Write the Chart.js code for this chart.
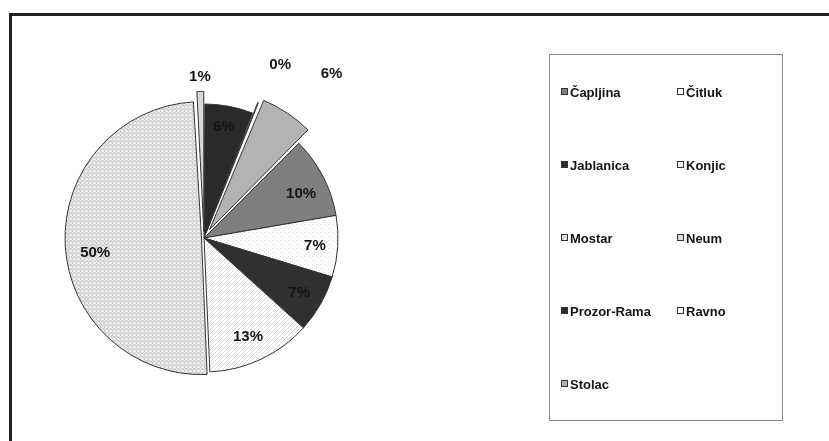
<!DOCTYPE html>
<html>
<head>
<meta charset="utf-8">
<script src="https://cdn.jsdelivr.net/npm/chart.js@4/dist/chart.umd.min.js"></script>
<style>
  html, body { margin: 0; padding: 0; background: #fff; }
  #wrap { width: 829px; height: 441px; }
</style>
</head>
<body>
<div id="wrap"><canvas id="pie" width="829" height="441"></canvas></div>
<script>
// podaci (udio u %)
const opcine = ['Čapljina', 'Čitluk', 'Jablanica', 'Konjic', 'Mostar', 'Neum', 'Prozor-Rama', 'Ravno', 'Stolac'];
const udio = [9.8, 7.4, 7.0, 12.6, 49.8, 1.0, 5.8, 0.3, 6.3];

// izgled
const izvuceno = [0, 0, 0, 0, 10, 26, 0, 24, 40];
const labelR = [0.795, 0.83, 0.82, 0.81, 0.82, 1.20, 0.84, 1.41, 1.55];
const labelShift = [3, 0.6, 0.5, 1.3, -5, 0, -0.6, 2, 4.2];

function pattern(size, draw) {
  const c = document.createElement('canvas');
  c.width = size; c.height = size;
  const g = c.getContext('2d');
  g.fillStyle = '#fff';
  g.fillRect(0, 0, size, size);
  draw(g);
  return document.getElementById('pie').getContext('2d').createPattern(c, 'repeat');
}

const dots = pattern(4, g => { g.fillStyle = '#dedede'; g.fillRect(0, 0, 1, 1); g.fillRect(2, 2, 1, 1); });
const hatch = pattern(4, g => {
  g.fillStyle = '#dcdcdc';
  g.fillRect(3, 0, 1, 1); g.fillRect(2, 1, 1, 1); g.fillRect(1, 2, 1, 1); g.fillRect(0, 3, 1, 1);
});
const checks = pattern(4, g => { g.fillStyle = '#c9c9c9'; g.fillRect(0, 0, 2, 2); g.fillRect(2, 2, 2, 2); g.fillStyle = '#e6e6e6'; g.fillRect(2, 0, 2, 2); });

const boje = ['#7f7f7f', dots, '#303030', hatch, checks, '#d9d9d9', '#2a2a2a', '#ffffff', '#b3b3b3'];

const okvir = {
  id: 'okvir',
  beforeDraw(chart) {
    const ctx = chart.ctx;
    ctx.save();
    ctx.strokeStyle = '#222';
    ctx.lineWidth = 3;
    ctx.beginPath();
    ctx.moveTo(10.5, 445);
    ctx.lineTo(10.5, 14.5);
    ctx.lineTo(835, 14.5);
    ctx.stroke();
    ctx.restore();
  }
};

const postoci = {
  id: 'postoci',
  afterDatasetsDraw(chart) {
    const ctx = chart.ctx;
    const meta = chart.getDatasetMeta(0);
    const total = udio.reduce((a, b) => a + b, 0);
    ctx.save();
    ctx.font = 'bold 15px "Liberation Sans", Arial, sans-serif';
    ctx.fillStyle = '#141414';
    ctx.textAlign = 'center';
    ctx.textBaseline = 'middle';
    meta.data.forEach((arc, i) => {
      const p = arc.getProps(['x', 'y', 'startAngle', 'endAngle', 'outerRadius'], true);
      const a = (p.startAngle + p.endAngle) / 2 + labelShift[i] * Math.PI / 180;
      const r = p.outerRadius * labelR[i];
      ctx.fillText(Math.round(udio[i] / total * 100) + '%', p.x + Math.cos(a) * r, p.y + Math.sin(a) * r);
    });
    ctx.restore();
  }
};

const legenda = {
  id: 'legenda',
  afterDraw(chart) {
    const ctx = chart.ctx;
    ctx.save();
    ctx.strokeStyle = '#8a8a8a';
    ctx.lineWidth = 1;
    ctx.strokeRect(549.5, 54.5, 233, 366);
    ctx.font = 'bold 13px "Liberation Sans", Arial, sans-serif';
    ctx.textBaseline = 'middle';
    opcine.forEach((name, i) => {
      const col = i % 2, row = Math.floor(i / 2);
      const x = col ? 677 : 561;
      const y = 92 + row * 73;
      ctx.fillStyle = boje[i];
      ctx.fillRect(x, y - 3, 6, 6);
      ctx.strokeStyle = '#333';
      ctx.strokeRect(x + 0.5, y - 3.5, 6, 6);
      ctx.fillStyle = '#141414';
      ctx.fillText(name, x + 9, y + 1);
    });
    ctx.restore();
  }
};

new Chart(document.getElementById('pie'), {
  type: 'pie',
  data: {
    labels: opcine,
    datasets: [{
      data: udio,
      backgroundColor: boje,
      borderColor: '#333',
      borderWidth: 1,
      offset: izvuceno
    }]
  },
  options: {
    responsive: false,
    animation: false,
    rotation: 45,
    radius: 134,
    layout: { padding: { left: 60, right: 481, top: 60, bottom: 25 } },
    plugins: {
      legend: { display: false },
      tooltip: { enabled: false }
    }
  },
  plugins: [okvir, postoci, legenda]
});
</script>
</body>
</html>
